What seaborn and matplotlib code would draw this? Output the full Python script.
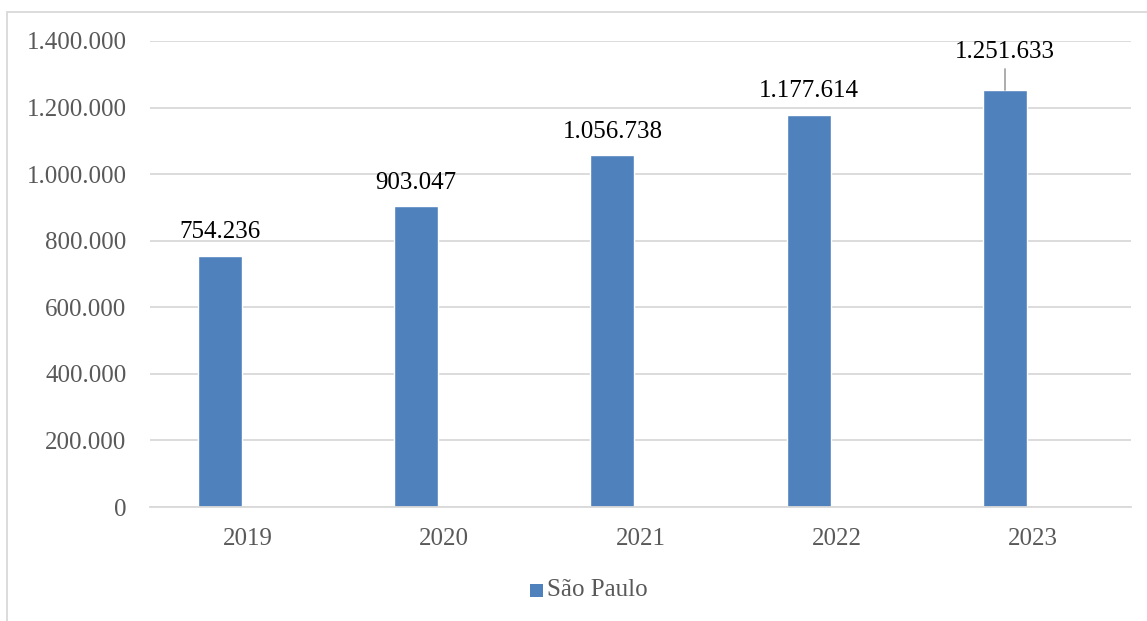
import numpy as np
import pandas as pd
import matplotlib
matplotlib.use("Agg")
import matplotlib.pyplot as plt
import seaborn as sns
from matplotlib.patches import Rectangle

years = ["2019", "2020", "2021", "2022", "2023"]
values = [754236, 903047, 1056738, 1177614, 1251633]
series_name = "São Paulo"
yticks = [0, 200000, 400000, 600000, 800000, 1000000, 1200000, 1400000]

def fmt(v):
    return f"{int(v):,}".replace(",", ".")

sns.set_theme(style="white")
plt.rcParams["font.family"] = ["Liberation Serif", "DejaVu Serif"]

BAR = "#4f81bd"
GRID = "#d9d9d9"
TXT = "#595959"

df = pd.DataFrame({
    "year": years * 2,
    "value": values + [np.nan] * len(years),
    "serie": [series_name] * len(years) + ["_empty"] * len(years),
})

fig = plt.figure(figsize=(11.47, 6.21), dpi=100)
ax = fig.add_axes([150 / 1147, 1 - 507 / 621, (1131 - 150) / 1147, (507 - 41) / 621])

sns.barplot(data=df, x="year", y="value", hue="serie", hue_order=[series_name, "_empty"],
            palette=[BAR, "#ffffff"], width=0.572, gap=0.217, dodge=True,
            errorbar=None, legend=False, ax=ax, saturation=1)

ax.set_xlim(-0.5, len(years) - 0.5)
ax.set_ylim(0, 1400000)
ax.set_yticks(yticks)
ax.set_yticklabels([fmt(v) for v in yticks])
ax.set_xlabel("")
ax.set_ylabel("")
ax.grid(axis="y", color=GRID, linewidth=1.3)
ax.set_axisbelow(True)
for s in ["top", "right", "left"]:
    ax.spines[s].set_visible(False)
ax.spines["bottom"].set_color(GRID)
ax.spines["bottom"].set_linewidth(1.3)
ax.tick_params(axis="y", length=0, pad=17, labelsize=18, labelcolor=TXT)
ax.tick_params(axis="x", length=0, pad=15, labelsize=18, labelcolor=TXT)

bars = [p for p in ax.containers[0]]
for p, v in zip(bars, values):
    cx = p.get_x() + p.get_width() / 2
    if v > 1200000:
        ax.annotate(fmt(v), xy=(cx, v), xytext=(cx, 1367000), ha="center", va="center",
                    fontsize=18, color="black", annotation_clip=False)
        ax.plot([cx, cx], [1316000, v], color="#a6a6a6", linewidth=1.3)
    else:
        ax.annotate(fmt(v), xy=(cx, v), xytext=(0, 17), textcoords="offset points",
                    ha="center", va="center", fontsize=18, color="black")

# legend
fig.patches.append(Rectangle((530 / 1147, 1 - 597 / 621), 13 / 1147, 13 / 621,
                             transform=fig.transFigure, facecolor=BAR, edgecolor="none"))
fig.text(547 / 1147, 1 - 590 / 621, series_name, ha="left", va="center",
         fontsize=18, color=TXT)

# chart frame
fig.patches.append(Rectangle((7.5 / 1147, -0.1), 1.2, 1 - 11.5 / 621 + 0.1,
                             transform=fig.transFigure, facecolor="none",
                             edgecolor=GRID, linewidth=1.3))

fig.savefig("out.png", dpi=100)
